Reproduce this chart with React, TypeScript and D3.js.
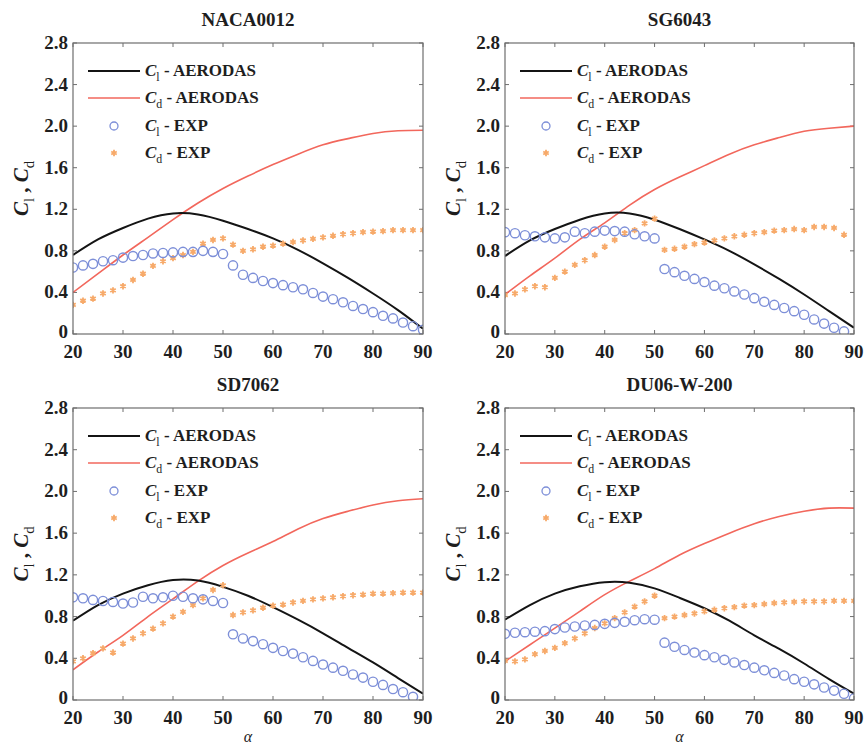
import React from "react";
import * as d3 from "d3";

// Angle of attack grid for the AERODAS model curves (deg)
const ALPHA_MODEL = [20, 25, 30, 35, 40, 45, 50, 55, 60, 65, 70, 75, 80, 85, 90];
// Angle of attack grid for the wind-tunnel measurements (deg)
const ALPHA_EXP = [
  20, 22, 24, 26, 28, 30, 32, 34, 36, 38, 40, 42, 44, 46, 48, 50,
  52, 54, 56, 58, 60, 62, 64, 66, 68, 70, 72, 74, 76, 78, 80, 82, 84, 86, 88, 90,
];

const X_TICKS = [20, 30, 40, 50, 60, 70, 80, 90];
const Y_TICKS = [0, 0.4, 0.8, 1.2, 1.6, 2.0, 2.4, 2.8];
const Y_TICK_LABELS = ["0", "0.4", "0.8", "1.2", "1.6", "2.0", "2.4", "2.8"];

const AIRFOILS = ["NACA0012", "SG6043", "SD7062", "DU06-W-200"];

// AERODAS lift coefficient
const NACA_CL_MODEL = [0.76, 0.91, 1.02, 1.11, 1.16, 1.15, 1.09, 1.01, 0.92, 0.81, 0.68, 0.54, 0.39, 0.23, 0.05];
const SG_CL_MODEL = [0.75, 0.9, 1.01, 1.1, 1.16, 1.16, 1.1, 1.01, 0.91, 0.8, 0.67, 0.53, 0.38, 0.22, 0.06];
const SD_CL_MODEL = [0.76, 0.91, 1.02, 1.1, 1.15, 1.145, 1.085, 1.0, 0.89, 0.77, 0.64, 0.5, 0.36, 0.21, 0.06];
const DU_CL_MODEL = [0.77, 0.91, 1.02, 1.09, 1.13, 1.125, 1.07, 0.98, 0.88, 0.76, 0.62, 0.49, 0.35, 0.2, 0.06];

// AERODAS drag coefficient
const NACA_CD_MODEL = [0.4, 0.58, 0.76, 0.93, 1.1, 1.26, 1.4, 1.52, 1.63, 1.73, 1.82, 1.88, 1.93, 1.955, 1.96];
const SG_CD_MODEL = [0.38, 0.56, 0.73, 0.91, 1.07, 1.24, 1.39, 1.51, 1.62, 1.73, 1.82, 1.89, 1.95, 1.98, 2.0];
const SD_CD_MODEL = [0.29, 0.46, 0.62, 0.8, 0.97, 1.14, 1.29, 1.41, 1.52, 1.64, 1.74, 1.81, 1.87, 1.91, 1.93];
const DU_CD_MODEL = [0.37, 0.53, 0.69, 0.85, 1.01, 1.14, 1.26, 1.39, 1.5, 1.6, 1.69, 1.76, 1.81, 1.84, 1.84];

// Measured lift coefficient
const NACA_CL_EXP = [
  0.64, 0.66, 0.675, 0.7, 0.71, 0.735, 0.75, 0.76, 0.775, 0.78, 0.785, 0.79, 0.79, 0.8, 0.79, 0.77,
  0.66, 0.57, 0.54, 0.51, 0.49, 0.47, 0.45, 0.43, 0.395, 0.36, 0.335, 0.305, 0.27, 0.24, 0.21, 0.175, 0.15, 0.11, 0.075, 0.04,
];
const SG_CL_EXP = [
  0.98, 0.97, 0.95, 0.94, 0.93, 0.92, 0.93, 0.985, 0.97, 0.985, 0.995, 0.99, 0.985, 0.96, 0.94, 0.92,
  0.625, 0.595, 0.56, 0.53, 0.5, 0.465, 0.44, 0.41, 0.38, 0.345, 0.31, 0.28, 0.25, 0.22, 0.185, 0.14, 0.1, 0.06, 0.025,
];
const SD_CL_EXP = [
  0.985, 0.975, 0.96, 0.95, 0.94, 0.925, 0.935, 0.99, 0.975, 0.985, 1.0, 0.99, 0.975, 0.965, 0.95, 0.93,
  0.63, 0.59, 0.565, 0.535, 0.5, 0.47, 0.445, 0.41, 0.375, 0.34, 0.31, 0.28, 0.245, 0.215, 0.175, 0.145, 0.105, 0.075, 0.03,
];
const DU_CL_EXP = [
  0.635, 0.645, 0.65, 0.655, 0.66, 0.68, 0.695, 0.705, 0.715, 0.72, 0.73, 0.74, 0.75, 0.765, 0.775, 0.77,
  0.55, 0.51, 0.48, 0.455, 0.43, 0.41, 0.385, 0.36, 0.335, 0.31, 0.285, 0.26, 0.235, 0.2, 0.175, 0.15, 0.12, 0.09, 0.06, 0.015,
];

// Measured drag coefficient
const NACA_CD_EXP = [
  0.28, 0.32, 0.34, 0.39, 0.42, 0.46, 0.52, 0.58, 0.655, 0.7, 0.73, 0.76, 0.79, 0.87, 0.905, 0.92,
  0.86, 0.8, 0.815, 0.84, 0.85, 0.87, 0.885, 0.9, 0.915, 0.93, 0.945, 0.96, 0.97, 0.98, 0.985, 0.99, 1.0, 1.0, 1.0, 1.0,
];
const SG_CD_EXP = [
  0.375, 0.39, 0.43, 0.46, 0.45, 0.54, 0.6, 0.665, 0.71, 0.76, 0.84, 0.905, 0.97, 1.0, 1.065, 1.11,
  0.81, 0.82, 0.84, 0.865, 0.88, 0.9, 0.92, 0.94, 0.955, 0.97, 0.98, 0.995, 1.0, 1.01, 1.0, 1.03, 1.03, 1.02, 0.955,
];
const SD_CD_EXP = [
  0.37, 0.4, 0.45, 0.495, 0.455, 0.54, 0.59, 0.64, 0.685, 0.735, 0.8, 0.845, 0.91, 0.975, 1.055, 1.1,
  0.815, 0.84, 0.86, 0.885, 0.905, 0.915, 0.935, 0.95, 0.965, 0.975, 0.985, 0.995, 1.005, 1.01, 1.02, 1.02, 1.025, 1.03, 1.03, 1.03,
];
const DU_CD_EXP = [
  0.375, 0.37, 0.39, 0.44, 0.47, 0.5, 0.545, 0.59, 0.64, 0.69, 0.735, 0.785, 0.84, 0.895, 0.945, 1.0,
  0.785, 0.8, 0.815, 0.83, 0.85, 0.865, 0.88, 0.89, 0.905, 0.91, 0.92, 0.93, 0.935, 0.94, 0.945, 0.945, 0.945, 0.95, 0.95, 0.95,
];

const PANELS = [
  { title: AIRFOILS[0], clModel: NACA_CL_MODEL, cdModel: NACA_CD_MODEL, clExp: NACA_CL_EXP, cdExp: NACA_CD_EXP, left: 73, top: 43, right: 423, bottom: 334, xLabel: false },
  { title: AIRFOILS[1], clModel: SG_CL_MODEL, cdModel: SG_CD_MODEL, clExp: SG_CL_EXP, cdExp: SG_CD_EXP, left: 505, top: 43, right: 854, bottom: 334, xLabel: false },
  { title: AIRFOILS[2], clModel: SD_CL_MODEL, cdModel: SD_CD_MODEL, clExp: SD_CL_EXP, cdExp: SD_CD_EXP, left: 73, top: 408, right: 423, bottom: 700, xLabel: true },
  { title: AIRFOILS[3], clModel: DU_CL_MODEL, cdModel: DU_CD_MODEL, clExp: DU_CL_EXP, cdExp: DU_CD_EXP, left: 505, top: 408, right: 854, bottom: 700, xLabel: true },
];

const FONT = "'Liberation Serif', 'DejaVu Serif', serif";
const TEXT = "#1e1e1e";
const FRAME = "#6e6e6e";
const BLACK_LINE = "#141414";
const RED_LINE = "#f2675c";
const BLUE = "#7d8fd8";
const ORANGE = "#f7aa6a";

const asterisk = d3.symbol(d3.symbolAsterisk, 28)();
const circleR = 4.6;

function CoefLabel({ sub, size }: { sub: string; size: number }) {
  return (
    <>
      <tspan fontStyle="italic">C</tspan>
      <tspan fontSize={size * 0.7} dy={size * 0.28} fontWeight="normal">{sub}</tspan>
      <tspan dy={-size * 0.28}> </tspan>
    </>
  );
}

function Panel({ p }: { p: (typeof PANELS)[number] }) {
  const x = d3.scaleLinear().domain([20, 90]).range([p.left, p.right]);
  const y = d3.scaleLinear().domain([0, 2.8]).range([p.bottom, p.top]);
  const line = d3
    .line<[number, number]>()
    .x((d) => x(d[0]))
    .y((d) => y(d[1]))
    .curve(d3.curveNatural);

  const clPath = line(ALPHA_MODEL.map((a, i) => [a, p.clModel[i]] as [number, number])) || "";
  const cdPath = line(ALPHA_MODEL.map((a, i) => [a, p.cdModel[i]] as [number, number])) || "";
  const clipId = `clip-${p.title}`;
  const cx = (p.left + p.right) / 2;
  const cy = (p.top + p.bottom) / 2;

  const legendX0 = p.left + 15;
  const legendX1 = p.left + 67;
  const legendText = p.left + 72;
  const rows = [p.top + 28, p.top + 55, p.top + 83, p.top + 110];

  return (
    <g>
      <defs>
        <clipPath id={clipId}>
          <rect x={p.left} y={p.top} width={p.right - p.left} height={p.bottom - p.top} />
        </clipPath>
      </defs>
      <rect x={p.left} y={p.top} width={p.right - p.left} height={p.bottom - p.top} fill="#fff" />

      {/* ticks pointing inward */}
      {X_TICKS.map((t) => (
        <g key={`xt${t}`}>
          <line x1={x(t)} x2={x(t)} y1={p.bottom} y2={p.bottom - 4} stroke={FRAME} strokeWidth={1} />
          <line x1={x(t)} x2={x(t)} y1={p.top} y2={p.top + 4} stroke={FRAME} strokeWidth={1} />
          <text x={x(t)} y={p.bottom + 24} textAnchor="middle" fontFamily={FONT} fontWeight="bold" fontSize={19} fill={TEXT}>
            {t}
          </text>
        </g>
      ))}
      {Y_TICKS.map((t, i) => (
        <g key={`yt${i}`}>
          <line x1={p.left} x2={p.left + 4} y1={y(t)} y2={y(t)} stroke={FRAME} strokeWidth={1} />
          <line x1={p.right} x2={p.right - 4} y1={y(t)} y2={y(t)} stroke={FRAME} strokeWidth={1} />
          <text x={p.left - 5} y={y(t) + (i === 0 ? 4 : 6)} textAnchor="end" fontFamily={FONT} fontWeight="bold" fontSize={19} fill={TEXT}>
            {Y_TICK_LABELS[i]}
          </text>
        </g>
      ))}

      <g clipPath={`url(#${clipId})`}>
        <path d={cdPath} fill="none" stroke={RED_LINE} strokeWidth={1.6} />
        <path d={clPath} fill="none" stroke={BLACK_LINE} strokeWidth={2} />
        {p.cdExp.map((v, i) => (
          <path key={`cd${i}`} d={asterisk} transform={`translate(${x(ALPHA_EXP[i])},${y(v)})`} fill="none" stroke={ORANGE} strokeWidth={1.8} />
        ))}
        {p.clExp.map((v, i) => (
          <circle key={`cl${i}`} cx={x(ALPHA_EXP[i])} cy={y(v)} r={circleR} fill="none" stroke={BLUE} strokeWidth={1.4} />
        ))}
      </g>

      <rect x={p.left} y={p.top} width={p.right - p.left} height={p.bottom - p.top} fill="none" stroke={FRAME} strokeWidth={1.2} />

      {/* legend */}
      <g fontFamily={FONT} fontWeight="bold" fontSize={17} fill={TEXT}>
        <line x1={legendX0} x2={legendX1} y1={rows[0]} y2={rows[0]} stroke={BLACK_LINE} strokeWidth={2} />
        <text x={legendText} y={rows[0] + 5}>
          <CoefLabel sub="l" size={17} />- AERODAS
        </text>
        <line x1={legendX0} x2={legendX1} y1={rows[1]} y2={rows[1]} stroke={RED_LINE} strokeWidth={1.6} />
        <text x={legendText} y={rows[1] + 5}>
          <CoefLabel sub="d" size={17} />- AERODAS
        </text>
        <circle cx={(legendX0 + legendX1) / 2} cy={rows[2]} r={circleR - 0.6} fill="none" stroke={BLUE} strokeWidth={1.3} />
        <text x={legendText} y={rows[2] + 5}>
          <CoefLabel sub="l" size={17} />- EXP
        </text>
        <path d={asterisk} transform={`translate(${(legendX0 + legendX1) / 2},${rows[3]})`} fill="none" stroke={ORANGE} strokeWidth={1.8} />
        <text x={legendText} y={rows[3] + 5}>
          <CoefLabel sub="d" size={17} />- EXP
        </text>
      </g>

      {/* title */}
      <text x={cx} y={p.top - 17} textAnchor="middle" fontFamily={FONT} fontWeight="bold" fontSize={19} fill={TEXT}>
        {p.title}
      </text>

      {/* y axis label */}
      <text
        transform={`translate(${p.left - 45},${cy}) rotate(-90)`}
        textAnchor="middle"
        fontFamily={FONT}
        fontWeight="bold"
        fontSize={21}
        fill={TEXT}
      >
        <CoefLabel sub="l" size={21} />
        <tspan>, </tspan>
        <CoefLabel sub="d" size={21} />
      </text>

      {p.xLabel && (
        <text x={cx} y={p.bottom + 42} textAnchor="middle" fontFamily={FONT} fontStyle="italic" fontSize={16} fill={TEXT}>
          α
        </text>
      )}
    </g>
  );
}

export default function App() {
  return (
    <svg
      width={866}
      height={744}
      viewBox="0 0 866 744"
      style={{ position: "absolute", left: 0, top: 0, background: "#fff" }}
    >
      <rect width={866} height={744} fill="#fff" />
      {PANELS.map((p) => (
        <Panel key={p.title} p={p} />
      ))}
    </svg>
  );
}
